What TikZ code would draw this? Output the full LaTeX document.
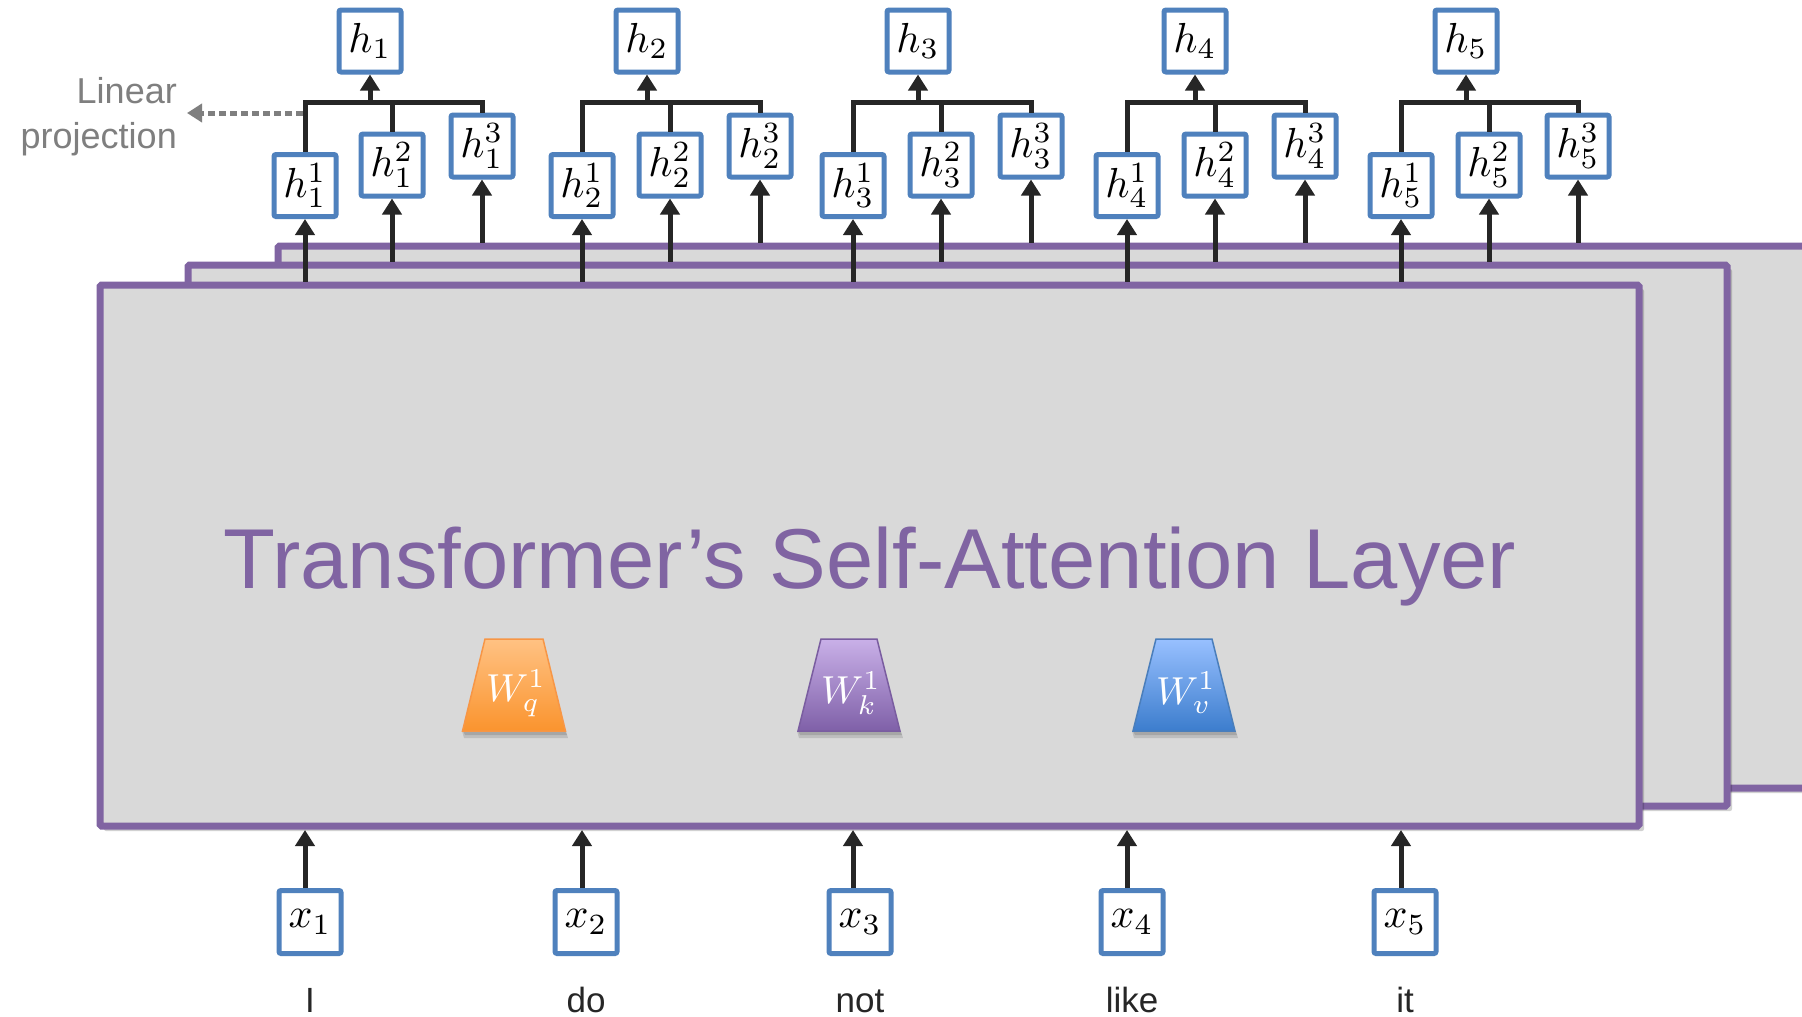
\documentclass[tikz,border=0pt]{standalone}
\usepackage[no-math]{fontspec}
\newfontfamily\arial{Liberation Sans}
\usetikzlibrary{arrows.meta,calc}
\newcommand\mlab[1]{\scalebox{4.2}{$#1$}}
\newcommand\wlab[1]{\scalebox{3.9}{$#1$}}
\definecolor{purp}{HTML}{8064A2}
\definecolor{bbl}{HTML}{4F81BD}
\definecolor{lgray}{HTML}{D9D9D9}
\definecolor{ink}{HTML}{262626}
\definecolor{pgray}{HTML}{7F7F7F}
\definecolor{oTop}{HTML}{FFC283}
\definecolor{oBot}{HTML}{FA942E}
\definecolor{oLine}{HTML}{F79646}
\definecolor{kTop}{HTML}{C9B0E8}
\definecolor{kBot}{HTML}{7F60A8}
\definecolor{kLine}{HTML}{7A5DA0}
\definecolor{vTop}{HTML}{98C0FF}
\definecolor{vBot}{HTML}{3C7DCD}
\definecolor{vLine}{HTML}{4A7EBB}
\begin{document}
\begin{tikzpicture}[x=1pt,y=-1pt,
  layer/.style={draw=purp, line width=7pt, fill=lgray, rounded corners=1.5pt},
  layershadow/.style={fill=black, opacity=0.18, rounded corners=2pt},
  vbox/.style={draw=bbl, line width=5pt, fill=white, rounded corners=2pt,
    minimum width=62pt, minimum height=62pt, inner sep=0pt},
  arr/.style={draw=ink, line width=5pt, -{Triangle[width=19pt,length=16pt]}},
  wire/.style={draw=ink, line width=5pt, line join=miter},
  projarr/.style={draw=pgray, line width=5pt, dash pattern=on 7pt off 4pt,
    -{Triangle[width=18pt,length=15pt]}},
  word/.style={font=\arial\fontsize{35}{38}\selectfont, text=ink, anchor=base, inner sep=0pt},
  lp/.style={font=\arial\fontsize{36}{40}\selectfont, text=pgray, anchor=base east, inner sep=0pt},
  wlabel/.style={text=white, inner sep=0pt},
  trapshadow/.style={fill=black, opacity=0.12}
]
\clip (0,0) rectangle (1802,1017);
\fill[white] (0,0) rectangle (1802,1017);

% reference heights of the layer tops and the front bottom
\coordinate (btop) at (0,242.5);
\coordinate (mtop) at (0,261.5);
\coordinate (ftop) at (0,281.5);
\coordinate (fbot) at (0,830);

% stacked layers
\fill[layershadow] (282,250) rectangle (1910,793);
\path[layer] (278,246) rectangle (1900,788);
\fill[layershadow] (192,269) rectangle (1732,811);
\path[layer] (188,265) rectangle (1727,806);
\fill[layershadow] (104,289) rectangle (1644,831);
\path[layer] (100,285) rectangle (1639,826);

% title
\node[font=\arial\fontsize{85}{90}\selectfont, text=purp, anchor=base, inner sep=0pt]
  (title) at (870,588) {Transformer’s Self-Attention Layer};

% weight trapezoids
\begin{scope}[shift={(514,0)}]
  \fill[trapshadow] (-52,731) -- (52,731) -- (54,738) -- (-50,738) -- cycle;
  \fill[trapshadow] (-51,731) -- (51,731) -- (53,735) -- (-49,735) -- cycle;
  \shade[top color=oTop, bottom color=oBot, draw=oLine, line width=1.5pt]
    (-29,639) -- (29,639) -- (51.5,731) -- (-51.5,731) -- cycle;
  \node[wlabel] (wq) at (2,693) {\wlab{W_q^1}};
\end{scope}
\begin{scope}[shift={(849,0)}]
  \fill[trapshadow] (-52,731) -- (52,731) -- (54,738) -- (-50,738) -- cycle;
  \fill[trapshadow] (-51,731) -- (51,731) -- (53,735) -- (-49,735) -- cycle;
  \shade[top color=kTop, bottom color=kBot, draw=kLine, line width=1.5pt]
    (-28,639) -- (28,639) -- (51,731) -- (-51,731) -- cycle;
  \node[wlabel] (wk) at (2,693) {\wlab{W_k^1}};
\end{scope}
\begin{scope}[shift={(1184,0)}]
  \fill[trapshadow] (-52,731) -- (52,731) -- (54,738) -- (-50,738) -- cycle;
  \fill[trapshadow] (-51,731) -- (51,731) -- (53,735) -- (-49,735) -- cycle;
  \shade[top color=vTop, bottom color=vBot, draw=vLine, line width=1.5pt]
    (-28,639) -- (28,639) -- (51,731) -- (-51,731) -- cycle;
  \node[wlabel] (wv) at (2,693) {\wlab{W_v^1}};
\end{scope}

% heads, inputs and words
\foreach \i/\h/\a/\b/\c/\xx/\w in {1/370/305/392/482/310/I,
    2/647/582/670/760/586/do, 3/918/853/941/1031/860/not,
    4/1195/1127/1215/1305/1132/like, 5/1466/1401/1489/1578/1405/it} {
  \node[vbox] (h\i) at (\h,41) {\mlab{h_{\i}}};
  \node[vbox] (hA\i) at (\a,185.5) {\mlab{h_{\i}^{1}}};
  \node[vbox] (hB\i) at (\b,165) {\mlab{h_{\i}^{2}}};
  \node[vbox] (hC\i) at (\c,146) {\mlab{h_{\i}^{3}}};
  \node[vbox, minimum height=63pt] (x\i) at (\xx,922) {\mlab{x_{\i}}};
  \node[word] (w\i) at (\xx,1012) {\w};
  \coordinate (j\i) at (\h,102);
  % arrows from the layers into the heads
  \draw[arr] (ftop -| hA\i) -- (hA\i.south);
  \draw[arr] (mtop -| hB\i) -- (hB\i.south);
  \draw[arr] (btop -| hC\i) -- (hC\i.south);
  % input arrows
  \draw[arr] (x\i.north -| hA\i) -- (fbot -| hA\i);
  % merging bracket
  \draw[wire] (hA\i.north) |- (j\i) -| (hC\i.north);
  \draw[wire] (hB\i.north) -- (hB\i.north |- j\i);
  \draw[arr] (j\i) -- (h\i.south);
}

% linear projection label
\node[lp] (lin1) at (177,103) {Linear};
\node[lp] (lin2) at (177,148) {projection};
\coordinate (lpe) at (187,113);
\draw[projarr] ($(hA1.north |- lpe)+(-2.5,0)$) -- (lpe);
\end{tikzpicture}
\end{document}
